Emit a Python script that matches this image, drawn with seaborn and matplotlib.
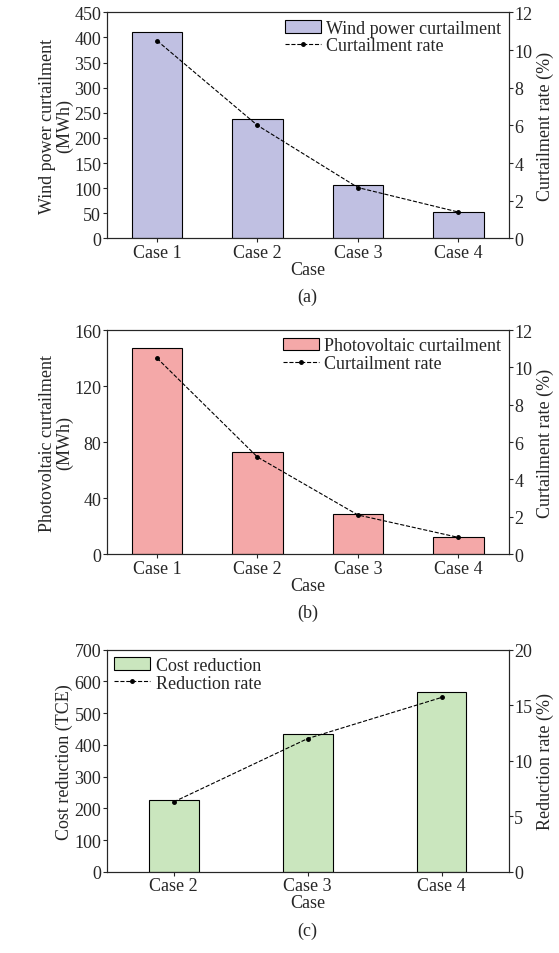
import matplotlib
matplotlib.use("Agg")
import matplotlib.pyplot as plt
import seaborn as sns
import pandas as pd
from matplotlib.patches import Patch
from matplotlib.lines import Line2D

sns.set_style("ticks")
plt.rcParams['font.family'] = ['Liberation Serif', 'DejaVu Serif']
plt.rcParams['font.size'] = 13
plt.rcParams['mathtext.fontset'] = 'stix'

cases_ab = ["Case 1", "Case 2", "Case 3", "Case 4"]
wind_curt = [410, 237, 107, 53]
wind_rate = [10.5, 6.0, 2.7, 1.4]
pv_curt = [147, 73, 29, 12]
pv_rate = [10.5, 5.2, 2.1, 0.9]
cases_c = ["Case 2", "Case 3", "Case 4"]
cost_red = [228, 435, 565]
red_rate = [6.3, 12.0, 15.7]

fig = plt.figure(figsize=(5.59, 9.54), dpi=100)
L, W = 0.191, 0.719
panels = [
    dict(rect=[L, 0.749, W, 0.237], cases=cases_ab, bars=wind_curt, rate=wind_rate,
         color="#c0c0e2", ylab="Wind power curtailment\n(MWh)", rlab="Curtailment rate (%)",
         blab="Wind power curtailment", llab="Curtailment rate", ylim=(0, 450), yt=range(0, 451, 50),
         rlim=(0, 12), rt=range(0, 13, 2), w=0.5, xlim=(-0.5, 3.5), tag="(a)", loc="upper right"),
    dict(rect=[L, 0.418, W, 0.235], cases=cases_ab, bars=pv_curt, rate=pv_rate,
         color="#f4a8a8", ylab="Photovoltaic curtailment\n(MWh)", rlab="Curtailment rate (%)",
         blab="Photovoltaic curtailment", llab="Curtailment rate", ylim=(0, 160), yt=range(0, 161, 40),
         rlim=(0, 12), rt=range(0, 13, 2), w=0.5, xlim=(-0.5, 3.5), tag="(b)", loc="upper right"),
    dict(rect=[L, 0.085, W, 0.233], cases=cases_c, bars=cost_red, rate=red_rate,
         color="#cae6be", ylab="Cost reduction (TCE)", rlab="Reduction rate (%)",
         blab="Cost reduction", llab="Reduction rate", ylim=(0, 700), yt=range(0, 701, 100),
         rlim=(0, 20), rt=range(0, 21, 5), w=0.37, xlim=(-0.5, 2.5), tag="(c)", loc="upper left"),
]

for p in panels:
    ax = fig.add_axes(p["rect"])
    df = pd.DataFrame({"Case": p["cases"], "v": p["bars"]})
    sns.barplot(data=df, x="Case", y="v", ax=ax, color=p["color"], width=p["w"],
                edgecolor="black", linewidth=0.8, saturation=1)
    ax.set_xlim(*p["xlim"]); ax.set_ylim(*p["ylim"]); ax.set_yticks(list(p["yt"]))
    ax.set_ylabel(p["ylab"], labelpad=1, linespacing=1.0); ax.set_xlabel("Case", labelpad=0)
    ax.tick_params(direction="out", length=3, pad=1)
    ax2 = ax.twinx()
    ax2.plot(range(len(p["cases"])), p["rate"], "k--", marker="o", markersize=2.5, linewidth=0.8)
    ax2.set_ylim(*p["rlim"]); ax2.set_yticks(list(p["rt"])); ax2.set_ylabel(p["rlab"], labelpad=3)
    ax2.tick_params(direction="out", length=3, pad=1)
    handles = [Patch(facecolor=p["color"], edgecolor="black", linewidth=0.8),
               Line2D([], [], color="k", ls="--", marker="o", markersize=2.5, linewidth=0.8)]
    ax.legend(handles, [p["blab"], p["llab"]], loc=p["loc"], frameon=False,
              handlelength=2.0, borderpad=0.1, labelspacing=0.05, handletextpad=0.3,
              borderaxespad=0.3)
    ax.annotate(p["tag"], xy=(0.5, 0), xycoords="axes fraction", xytext=(0, -42),
                textcoords="offset points", ha="center", va="center")

fig.savefig("out.png", dpi=100)
